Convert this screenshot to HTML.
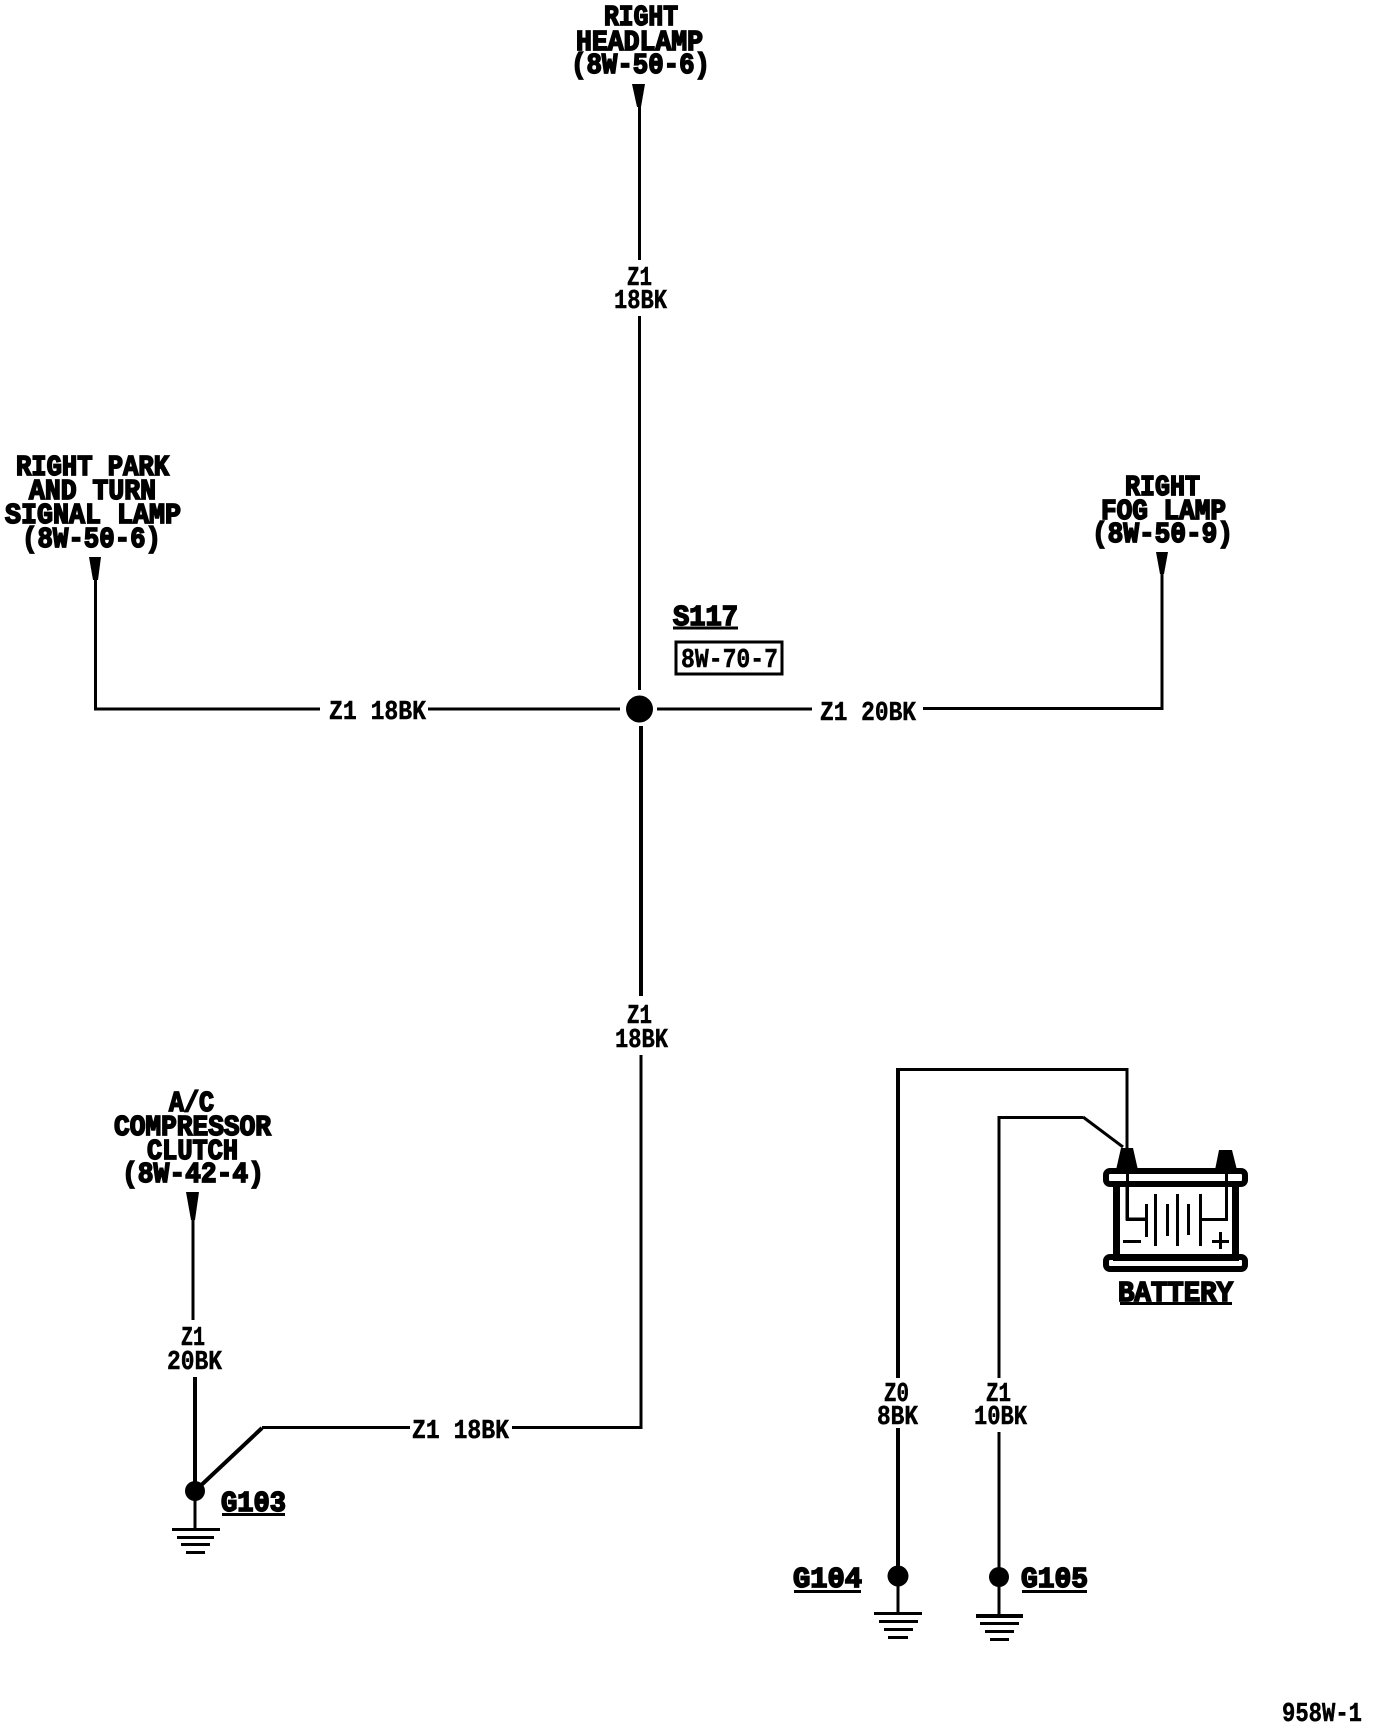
<!DOCTYPE html>
<html><head><meta charset="utf-8"><style>
html,body{margin:0;padding:0;background:#fff}
svg{display:block}
text{font-family:"Liberation Mono",monospace;font-weight:bold;fill:#000;white-space:pre}
.h{font-size:29px;stroke:#000;stroke-width:1.7px}
.t{font-size:27px;stroke:#000;stroke-width:.5px}
.w{fill:none;stroke:#000;stroke-width:3;stroke-linejoin:miter}
</style></head><body>
<svg width="1376" height="1728" viewBox="0 0 1376 1728" xmlns="http://www.w3.org/2000/svg">
<rect width="1376" height="1728" fill="#fff"/>

<!-- labels heavy -->
<text class="h" x="604" y="25" textLength="74" lengthAdjust="spacingAndGlyphs">RIGHT</text>
<text class="h" x="576" y="50" textLength="127" lengthAdjust="spacingAndGlyphs">HEADLAMP</text>
<text class="h" x="571" y="73" textLength="139" lengthAdjust="spacingAndGlyphs">(8W-50-6)</text>

<text class="h" x="16" y="475" textLength="153" lengthAdjust="spacingAndGlyphs">RIGHT PARK</text>
<text class="h" x="29" y="499" textLength="127" lengthAdjust="spacingAndGlyphs">AND TURN</text>
<text class="h" x="5" y="523" textLength="176" lengthAdjust="spacingAndGlyphs">SIGNAL LAMP</text>
<text class="h" x="22" y="547" textLength="139" lengthAdjust="spacingAndGlyphs">(8W-50-6)</text>

<text class="h" x="1125" y="495" textLength="75" lengthAdjust="spacingAndGlyphs">RIGHT</text>
<text class="h" x="1101" y="519" textLength="125" lengthAdjust="spacingAndGlyphs">FOG LAMP</text>
<text class="h" x="1092" y="542" textLength="141" lengthAdjust="spacingAndGlyphs">(8W-50-9)</text>

<text class="h" x="169" y="1111" textLength="45" lengthAdjust="spacingAndGlyphs">A/C</text>
<text class="h" x="114" y="1135" textLength="157" lengthAdjust="spacingAndGlyphs">COMPRESSOR</text>
<text class="h" x="147" y="1159" textLength="91" lengthAdjust="spacingAndGlyphs">CLUTCH</text>
<text class="h" x="122" y="1182" textLength="142" lengthAdjust="spacingAndGlyphs">(8W-42-4)</text>

<text class="h" x="673" y="625" textLength="65" lengthAdjust="spacingAndGlyphs">S117</text>
<rect x="673" y="626.500" width="65" height="3" fill="#000"/>
<text class="h" x="221" y="1511" textLength="65" lengthAdjust="spacingAndGlyphs">G103</text>
<rect x="222" y="1513" width="63" height="3" fill="#000"/>
<text class="h" x="793" y="1587" textLength="69" lengthAdjust="spacingAndGlyphs">G104</text>
<rect x="794" y="1590" width="67" height="3" fill="#000"/>
<text class="h" x="1021" y="1587" textLength="67" lengthAdjust="spacingAndGlyphs">G105</text>
<rect x="1022" y="1590" width="65" height="3" fill="#000"/>
<text class="h" x="1118" y="1301" textLength="115" lengthAdjust="spacingAndGlyphs">BATTERY</text>
<rect x="1120" y="1302" width="112" height="3" fill="#000"/>

<!-- wire labels -->
<text class="t" x="627" y="285" textLength="25" lengthAdjust="spacingAndGlyphs">Z1</text>
<text class="t" x="614" y="308" textLength="53" lengthAdjust="spacingAndGlyphs">18BK</text>
<text class="t" x="329" y="719" textLength="97" lengthAdjust="spacingAndGlyphs">Z1 18BK</text>
<text class="t" x="820" y="720" textLength="96" lengthAdjust="spacingAndGlyphs">Z1 20BK</text>
<text class="t" x="627" y="1023" textLength="25" lengthAdjust="spacingAndGlyphs">Z1</text>
<text class="t" x="615" y="1047" textLength="53" lengthAdjust="spacingAndGlyphs">18BK</text>
<text class="t" x="181" y="1345" textLength="24" lengthAdjust="spacingAndGlyphs">Z1</text>
<text class="t" x="167" y="1369" textLength="55" lengthAdjust="spacingAndGlyphs">20BK</text>
<text class="t" x="412" y="1438" textLength="97" lengthAdjust="spacingAndGlyphs">Z1 18BK</text>
<text class="t" x="884" y="1401" textLength="25" lengthAdjust="spacingAndGlyphs">Z0</text>
<text class="t" x="877" y="1424" textLength="41" lengthAdjust="spacingAndGlyphs">8BK</text>
<text class="t" x="986" y="1401" textLength="25" lengthAdjust="spacingAndGlyphs">Z1</text>
<text class="t" x="974" y="1424" textLength="53" lengthAdjust="spacingAndGlyphs">10BK</text>
<text class="t" x="1282" y="1721" textLength="80" lengthAdjust="spacingAndGlyphs">958W-1</text>

<!-- S117 reference box -->
<rect x="676" y="642" width="106" height="32" fill="none" stroke="#000" stroke-width="3"/>
<text class="t" x="681" y="667" textLength="97" lengthAdjust="spacingAndGlyphs">8W-70-7</text>

<!-- connector arrows -->
<g fill="#000">
<polygon points="632,84 645,84 641,107 637,107"/>
<polygon points="89,557 101,557 98,580 93,580"/>
<polygon points="1156,552 1168,552 1164,574 1160,574"/>
<polygon points="186,1192 199,1192 195,1220 191,1220"/>
</g>

<!-- main wires -->
<g class="w" shape-rendering="crispEdges">
<path d="M639.500 107V260"/>
<path d="M639.500 316V690"/>
<path d="M95.500 580V709H320"/>
<path d="M428 709H620"/>
<path d="M657 709H812"/>
<path d="M923 708.500H1162V574"/>
<path d="M641 726V996" style="stroke-width:4"/>
<path d="M641 1055V1427.500H512"/>
<path d="M193 1220V1320"/>
<path d="M410 1427.500H262"/>
<path d="M195 1377V1491" style="stroke-width:4"/>
<path d="M195 1491V1528"/>
<path d="M898 1378V1070" style="stroke-width:4"/>
<path d="M896 1069.500H1127V1219H1145"/>
<path d="M898 1428V1576" style="stroke-width:4"/>
<path d="M999 1432V1577"/>
<path d="M999 1378V1117.500H1083"/>
<path d="M898 1576V1612"/>
<path d="M999 1577V1614"/>
</g>
<path d="M262 1428L195 1491" fill="none" stroke="#000" stroke-width="4"/>
<path d="M1083 1117L1123 1147" fill="none" stroke="#000" stroke-width="3"/>

<!-- junctions -->
<g fill="#000">
<circle cx="639.500" cy="709" r="13.500"/>
<circle cx="195" cy="1491" r="10"/>
<circle cx="898" cy="1576" r="10.500"/>
<circle cx="999" cy="1577" r="10"/>
</g>

<!-- grounds -->
<g fill="#000" shape-rendering="crispEdges">
<rect x="172" y="1528" width="48" height="3"/><rect x="177" y="1536" width="37" height="3"/><rect x="181" y="1543" width="29" height="3"/><rect x="186" y="1551" width="19" height="3"/>
<rect x="874" y="1612" width="48" height="3"/><rect x="879" y="1620" width="39" height="3"/><rect x="884" y="1628" width="29" height="3"/><rect x="888" y="1636" width="20" height="3"/>
<rect x="976" y="1614" width="47" height="4"/><rect x="980" y="1622" width="39" height="3"/><rect x="985" y="1630" width="29" height="3"/><rect x="990" y="1638" width="19" height="3"/>
</g>

<!-- battery -->
<g fill="#000">
<polygon points="1121,1148 1133,1148 1138,1170 1116,1170"/>
<polygon points="1219,1150 1232,1150 1237,1170 1215,1170"/>
</g>
<rect x="1106" y="1171" width="139" height="13" rx="4" fill="#fff" stroke="#000" stroke-width="6"/>
<rect x="1106" y="1257" width="139" height="12" rx="4" fill="#fff" stroke="#000" stroke-width="6"/>
<g fill="#000" shape-rendering="crispEdges">
<rect x="1113" y="1185" width="7" height="70"/>
<rect x="1232" y="1185" width="7" height="70"/>
<rect x="1113" y="1182" width="126" height="3"/>
<rect x="1113" y="1256" width="126" height="5"/>
<rect x="1145" y="1204" width="3" height="33"/>
<rect x="1154" y="1194" width="3" height="52"/>
<rect x="1166" y="1204" width="3" height="32"/>
<rect x="1176" y="1194" width="3" height="52"/>
<rect x="1187" y="1204" width="3" height="31"/>
<rect x="1199" y="1194" width="3" height="52"/>
<rect x="1123" y="1240" width="18" height="3"/>
<rect x="1212" y="1240" width="17" height="3"/>
<rect x="1219" y="1232" width="3" height="17"/>
<rect x="1126" y="1170" width="3" height="50"/>
<rect x="1126" y="1218" width="20" height="3"/>
<rect x="1225" y="1170" width="3" height="50"/>
<rect x="1200" y="1218" width="28" height="3"/>
</g>
</svg>
</body></html>
